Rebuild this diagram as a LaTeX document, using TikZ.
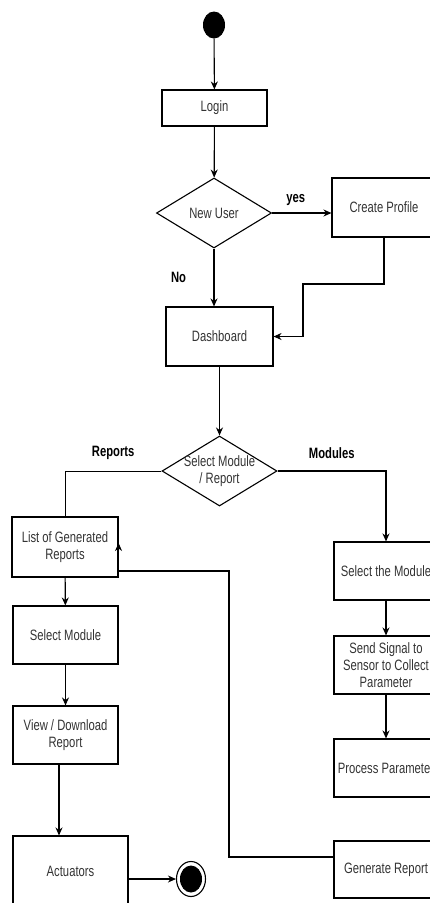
\documentclass[tikz,border=0pt]{standalone}
\usepackage{fontspec}
\setmainfont{Liberation Sans}[FakeStretch=0.75]
\usetikzlibrary{shapes.geometric,arrows.meta}

\begin{document}
\begin{tikzpicture}[x=1pt, y=-1pt,
  every node/.style={font=\fontsize{15}{17}\selectfont, text=black!80, align=center},
  act/.style={draw, line width=1.1pt, minimum width=105pt, minimum height=58pt, inner sep=1pt},
  decision/.style={draw, diamond, line width=1.1pt, minimum width=115pt, minimum height=70pt, inner sep=0pt},
  flow/.style={line width=1.1pt, -{Stealth[length=8pt, width=7pt]}},
  tag/.style={font=\fontsize{15}{17}\selectfont\bfseries, text=black}]
  \useasboundingbox (0,0) rectangle (430,903);
  \clip (0,0) rectangle (430,903);

  \node[fill, ellipse, minimum width=22pt, minimum height=27pt, inner sep=0pt] (start) at (214,25) {};
  \node[act, minimum height=36pt] (login) at (214.5,108) {Login};
  \node[decision] (newuser) at (214,213) {New User};
  \node[act, minimum width=104pt, minimum height=59pt] (profile) at (384,207.5) {Create Profile};
  \node[act, minimum width=107pt, minimum height=59pt] (dash) at (219.5,336.5) {Dashboard};
  \node[decision] (sel) at (219.5,471) {};
  \node (seltext) at (sel) {Select Module\\/ Report};

  \node[act, minimum width=106pt, minimum height=60pt] (list) at (65,547) {List of Generated\\Reports};
  \node[act] (module) at (65.5,635) {Select Module};
  \node[act] (view) at (65.5,735) {View / Download\\Report};
  \node[act, minimum width=115pt, minimum height=70pt] (actuators) at (70.5,871) {Actuators};
  \node[draw, ellipse, line width=1.1pt, minimum width=29pt, minimum height=35pt] (stop) at (191,879) {};
  \node[fill, ellipse, minimum width=22pt, minimum height=27pt, inner sep=0pt] (stopdot) at (stop) {};

  \node[act, minimum width=104pt] (pick) at (386,571) {Select the Module};
  \node[act, minimum width=104pt] (signal) at (386,665) {Send Signal to\\Sensor to Collect\\Parameter};
  \node[act, minimum width=104pt] (process) at (386,768) {Process Parameter};
  \node[act, minimum width=104pt, minimum height=57pt] (report) at (386,869.5) {Generate Report};

  \coordinate (jog) at (303,284);
  \coordinate (back) at (229,571);

  \draw[flow] (start) -- (login);
  \draw[flow] (login) -- (newuser);
  \draw[flow] (newuser.east) -- node[tag, pos=0.4, above=4pt] (yes) {yes} (newuser.east -| profile.west);
  \draw[flow] (profile.south) |- (jog) |- (dash.east);
  \draw[flow] (newuser.south) -- node[tag, left=24pt] (no) {No} (newuser.south |- dash.north);
  \draw[flow] (dash) -- (sel);
  \draw (sel.west) -| node[tag, pos=0.25, above=8pt] (reports) {Reports} (list.north);
  \draw[flow] (sel.east) -| node[tag, pos=0.25, above=8pt] (modules) {Modules} (pick.north);
  \draw[flow] (list) -- (module);
  \draw[flow] (module) -- (view);
  \draw[flow] ([xshift=-6.5pt]view.south) -- ([xshift=-6.5pt]view.south |- actuators.north);
  \draw[flow] (actuators.east |- stop) -- (stop);
  \draw[flow] (pick) -- (signal);
  \draw[flow] (signal) -- (process);
  \draw[flow] ([yshift=12.5pt]report.west) -| (back) -- (list.east |- back) -- ([yshift=4pt]list.east);
\end{tikzpicture}
\end{document}
